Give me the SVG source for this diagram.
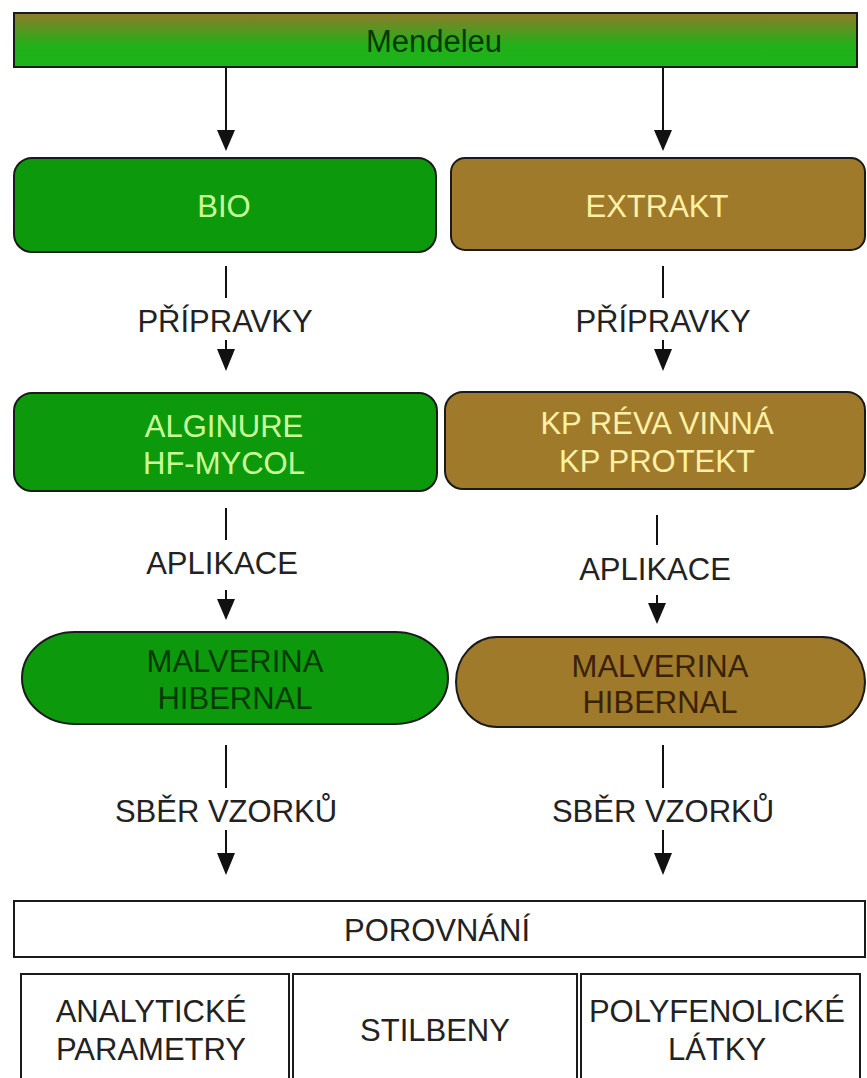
<svg xmlns="http://www.w3.org/2000/svg" width="867" height="1078" viewBox="0 0 867 1078">
<style>
text{font-family:"Liberation Sans",Arial,sans-serif;font-size:31px;text-anchor:middle}
.g{fill:#0c9a0c;stroke:#1a1a1a;stroke-width:2}
.b{fill:#9e7a2a;stroke:#1a1a1a;stroke-width:2}
.w{fill:#ffffff;stroke:#1a1a1a;stroke-width:2}
.tg{fill:#ccff99}
.tb{fill:#fff0a8}
.dg{fill:#053a05}
.db{fill:#3a2208}
.lab{fill:#222222}
.ln{stroke:#111;stroke-width:2;fill:none}
.ah{fill:#111}
</style>
<defs>
<linearGradient id="top" x1="0" y1="0" x2="0" y2="1">
<stop offset="0" stop-color="#907a2a"/>
<stop offset="0.6" stop-color="#22b018"/>
<stop offset="1" stop-color="#1ab41a"/>
</linearGradient>
</defs>
<rect width="867" height="1078" fill="#ffffff"/>

<g id="connectors">
<line class="ln" x1="226" y1="68" x2="226" y2="132"/>
<path class="ah" d="M217,130 L235,130 L226,151 z"/>
<line class="ln" x1="663" y1="68" x2="663" y2="132"/>
<path class="ah" d="M654,130 L672,130 L663,151 z"/>

<line class="ln" x1="226" y1="266" x2="226" y2="298"/>
<line class="ln" x1="226" y1="340" x2="226" y2="352"/>
<path class="ah" d="M217,349 L235,349 L226,371 z"/>
<line class="ln" x1="663" y1="266" x2="663" y2="298"/>
<line class="ln" x1="663" y1="340" x2="663" y2="352"/>
<path class="ah" d="M654,349 L672,349 L663,371 z"/>

<line class="ln" x1="226" y1="508" x2="226" y2="540"/>
<line class="ln" x1="226" y1="590" x2="226" y2="602"/>
<path class="ah" d="M217,599 L235,599 L226,620 z"/>
<line class="ln" x1="657" y1="515" x2="657" y2="545"/>
<line class="ln" x1="657" y1="595" x2="657" y2="606"/>
<path class="ah" d="M648,603 L666,603 L657,624 z"/>

<line class="ln" x1="226" y1="745" x2="226" y2="788"/>
<line class="ln" x1="226" y1="830" x2="226" y2="856"/>
<path class="ah" d="M217,853 L235,853 L226,875 z"/>
<line class="ln" x1="663" y1="745" x2="663" y2="788"/>
<line class="ln" x1="663" y1="830" x2="663" y2="856"/>
<path class="ah" d="M654,853 L672,853 L663,875 z"/>

<text class="lab" x="225" y="332">PŘÍPRAVKY</text>
<text class="lab" x="663" y="332">PŘÍPRAVKY</text>
<text class="lab" x="222" y="574">APLIKACE</text>
<text class="lab" x="655" y="580">APLIKACE</text>
<text class="lab" x="226" y="822">SBĚR VZORKŮ</text>
<text class="lab" x="663" y="822">SBĚR VZORKŮ</text>
</g>

<g id="mendeleu">
<rect x="14" y="13" width="843" height="54" fill="url(#top)" stroke="#1a1a1a" stroke-width="2"/>
<text class="dg" x="434" y="52" font-size="29">Mendeleu</text>
</g>

<g id="bio">
<rect class="g" x="14" y="158" width="422" height="94" rx="18"/>
<text class="tg" x="224" y="217">BIO</text>
</g>

<g id="extrakt">
<rect class="b" x="451" y="158" width="414" height="92" rx="14"/>
<text class="tb" x="657" y="217">EXTRAKT</text>
</g>

<g id="alginure">
<rect class="g" x="14" y="393" width="423" height="98" rx="18"/>
<text class="tg" x="224" y="437">ALGINURE</text>
<text class="tg" x="224" y="474">HF-MYCOL</text>
</g>

<g id="kp">
<rect class="b" x="445" y="392" width="420" height="97" rx="18"/>
<text class="tb" x="657" y="434">KP RÉVA VINNÁ</text>
<text class="tb" x="657" y="472">KP PROTEKT</text>
</g>

<g id="malverina-bio">
<path class="g" d="M75,632 L395,632 A53,46 0 0 1 395,724 L75,724 A53,46 0 0 1 75,632 z"/>
<text class="dg" x="235" y="672">MALVERINA</text>
<text class="dg" x="235" y="709">HIBERNAL</text>
</g>

<g id="malverina-extrakt">
<path class="b" d="M497,637 L822,637 A43,45 0 0 1 822,727 L497,727 A41,45 0 0 1 497,637 z"/>
<text class="db" x="660" y="677">MALVERINA</text>
<text class="db" x="660" y="713">HIBERNAL</text>
</g>

<g id="porovnani">
<rect class="w" x="14" y="901" width="851" height="56"/>
<text class="lab" x="437" y="941">POROVNÁNÍ</text>
</g>

<g id="analyticke">
<rect class="w" x="21" y="974" width="268" height="110"/>
<text class="lab" x="151" y="1022">ANALYTICKÉ</text>
<text class="lab" x="151" y="1060">PARAMETRY</text>
</g>

<g id="stilbeny">
<rect class="w" x="293" y="974" width="284" height="110"/>
<text class="lab" x="435" y="1041">STILBENY</text>
</g>

<g id="polyfenolicke">
<rect class="w" x="581" y="974" width="279" height="110"/>
<text class="lab" x="717" y="1022">POLYFENOLICKÉ</text>
<text class="lab" x="717" y="1060">LÁTKY</text>
</g>
</svg>
